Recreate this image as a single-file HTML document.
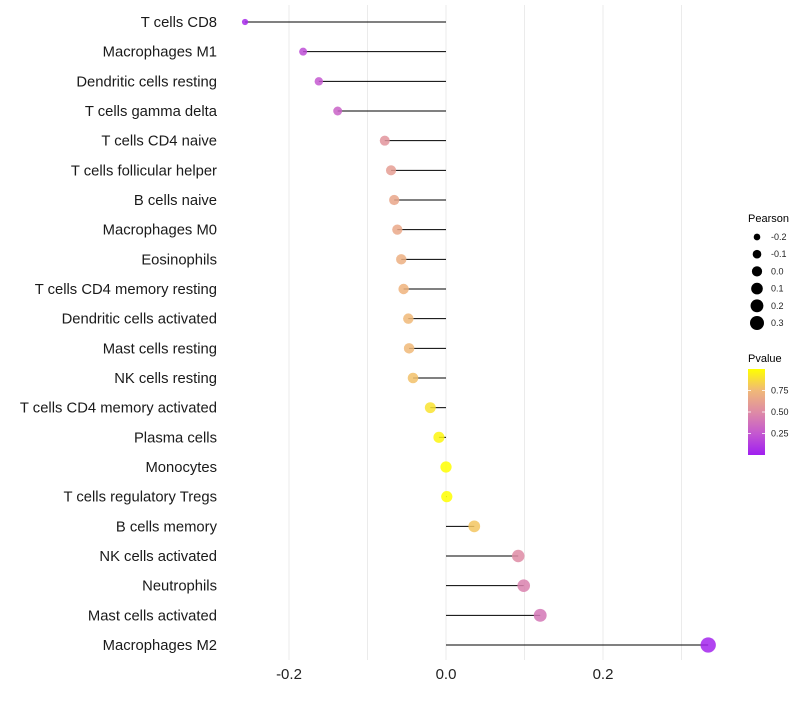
<!DOCTYPE html>
<html><head><meta charset="utf-8"><style>
body{margin:0;background:#fff;font-family:"Liberation Sans",sans-serif}
svg text{font-family:"Liberation Sans",sans-serif}
</style></head><body>
<svg id="chart" width="800" height="700" xmlns="http://www.w3.org/2000/svg">
<defs><linearGradient id="pg" x1="0" y1="1" x2="0" y2="0">
<stop offset="0" stop-color="#a01ff0"/><stop offset="0.25" stop-color="#c458d0"/><stop offset="0.5" stop-color="#de8ba5"/><stop offset="0.75" stop-color="#f0b878"/><stop offset="1" stop-color="#ffff00"/></linearGradient></defs>
<g id="grid"></g>
<g id="marks"></g>
<g id="labels"></g>
<g id="xticks"></g>
<g id="sleg">
<text x="748" y="222" font-size="11">Pearson</text>
</g>
<g>
<text x="748" y="362" font-size="11">Pvalue</text>
<rect x="748" y="369" width="17" height="86" fill="url(#pg)"/>
<g id="cleg"></g>
</g>
</svg>
<script>
const categories=["T cells CD8","Macrophages M1","Dendritic cells resting","T cells gamma delta","T cells CD4 naive","T cells follicular helper","B cells naive","Macrophages M0","Eosinophils","T cells CD4 memory resting","Dendritic cells activated","Mast cells resting","NK cells resting","T cells CD4 memory activated","Plasma cells","Monocytes","T cells regulatory  Tregs ","B cells memory","NK cells activated","Neutrophils","Mast cells activated","Macrophages M2"];
const pearson=[-0.256,-0.182,-0.162,-0.138,-0.078,-0.070,-0.066,-0.062,-0.057,-0.054,-0.048,-0.047,-0.042,-0.020,-0.009,0.0,0.001,0.036,0.092,0.099,0.120,0.334];
const pvalue=[0.05,0.2,0.25,0.3,0.55,0.6,0.65,0.66,0.7,0.72,0.75,0.75,0.78,0.9,0.97,1.0,1.0,0.8,0.5,0.45,0.4,0.02];
const xTicks=[-0.2,0.0,0.2];
const gridVals=[-0.2,-0.1,0,0.1,0.2,0.3];
const sizeLegend=[-0.2,-0.1,0.0,0.1,0.2,0.3];
const colorLegend=[0.25,0.5,0.75];
const NS="http://www.w3.org/2000/svg";
const X=v=>446+v*785;
const Y=i=>22+i*(623/21);
const R=v=>Math.sqrt(Math.max(2,26.2+76*v))+0.5;
const stops=[[0,[160,31,240]],[0.25,[196,88,208]],[0.5,[222,139,165]],[0.75,[240,184,120]],[1,[255,255,0]]];
function col(p){for(let k=0;k<stops.length-1;k++){const a=stops[k],b=stops[k+1];if(p<=b[0]){const t=(p-a[0])/(b[0]-a[0]);return 'rgb('+a[1].map((c,j)=>Math.round(c+(b[1][j]-c)*t)).join(',')+')';}}return 'rgb(255,255,0)';}
function mk(tag,at,parent){const e=document.createElementNS(NS,tag);for(const k in at)e.setAttribute(k,at[k]);parent.appendChild(e);return e;}
const grid=document.getElementById('grid'),marks=document.getElementById('marks'),labels=document.getElementById('labels'),xt=document.getElementById('xticks');
gridVals.forEach(v=>{const l=mk('line',{x1:X(v),x2:X(v),y1:5,y2:660,stroke:'#ebebeb','stroke-width':1},grid);

});
xTicks.forEach(v=>{const t=mk('text',{x:X(v),y:679,'font-size':15,'text-anchor':'middle',fill:'#222'},xt);t.textContent=v.toFixed(1);

});
categories.forEach((c,i)=>{const y=Y(i);
const t=mk('text',{x:217,y:y+5,'font-size':14.8,'text-anchor':'end',fill:'#1a1a1a'},labels);t.textContent=c;


const l=mk('line',{x1:X(0),x2:X(pearson[i]),y1:y,y2:y,stroke:'#000','stroke-width':1},marks);


const d=mk('circle',{cx:X(pearson[i]),cy:y,r:R(pearson[i]),fill:col(pvalue[i]),'fill-opacity':0.85},marks);

});
const sl=document.getElementById('sleg');
sizeLegend.forEach((v,k)=>{const y=237+k*17.2;
const c=mk('circle',{cx:757,cy:y,r:R(v)-0.5,fill:'#000'},sl);


const t=mk('text',{x:771,y:y+3,'font-size':9,fill:'#222'},sl);t.textContent=v.toFixed(1);

});
const cl=document.getElementById('cleg');
colorLegend.forEach(v=>{const y=455-v*86;
mk('line',{x1:748,x2:751,y1:y,y2:y,stroke:'#fff','stroke-width':0.8},cl);
mk('line',{x1:762,x2:765,y1:y,y2:y,stroke:'#fff','stroke-width':0.8},cl);
const t=mk('text',{x:771,y:y+3,'font-size':9,fill:'#222'},cl);t.textContent=v.toFixed(2);

});
</script>
</body></html>
